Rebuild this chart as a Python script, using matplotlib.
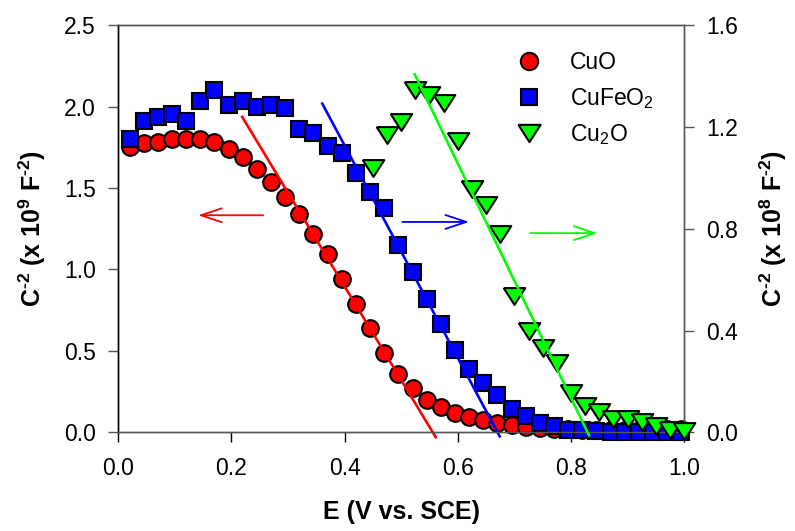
import matplotlib
matplotlib.use("Agg")
import matplotlib.pyplot as plt
from matplotlib.lines import Line2D
from matplotlib.ticker import FormatStrFormatter

plt.rcParams['font.family'] = ['Liberation Sans', 'DejaVu Sans']
plt.rcParams['mathtext.fontset'] = 'custom'
plt.rcParams['mathtext.rm'] = 'Liberation Sans'
plt.rcParams['mathtext.it'] = 'Liberation Sans:italic'
plt.rcParams['mathtext.bf'] = 'Liberation Sans:bold'

# Mott-Schottky data, potential in V vs. SCE
e_cuo = [0.02, 0.045, 0.07, 0.095, 0.12, 0.145, 0.17, 0.195, 0.22, 0.245,
         0.27, 0.295, 0.32, 0.345, 0.37, 0.395, 0.42, 0.445, 0.47, 0.495,
         0.52, 0.545, 0.57, 0.595, 0.62, 0.645, 0.67, 0.695, 0.72, 0.745,
         0.77, 0.795, 0.82, 0.845, 0.87, 0.895, 0.92, 0.945, 0.97, 0.995]
c2_cuo = [1.75, 1.775, 1.785, 1.80, 1.80, 1.80, 1.78, 1.74, 1.69, 1.62,
          1.54, 1.445, 1.34, 1.22, 1.095, 0.94, 0.785, 0.64, 0.49, 0.36,
          0.27, 0.20, 0.155, 0.117, 0.092, 0.074, 0.057, 0.044, 0.033, 0.026,
          0.021, 0.018, 0.016, 0.015, 0.014, 0.014, 0.015, 0.016, 0.018, 0.02]

e_cufeo2 = e_cuo
c2_cufeo2 = [1.80, 1.91, 1.935, 1.955, 1.91, 2.035, 2.10, 2.01, 2.035, 2.00,
             2.01, 1.99, 1.865, 1.84, 1.76, 1.715, 1.59, 1.475, 1.375, 1.15,
             0.985, 0.82, 0.665, 0.505, 0.39, 0.30, 0.227, 0.14, 0.098, 0.057,
             0.037, 0.017, 0.012, 0.006, 0.004, 0.003, 0.003, 0.003, 0.003, 0.003]

# Cu2O is on the right axis (x 10^8)
e_cu2o = [0.45, 0.475, 0.50, 0.525, 0.55, 0.575, 0.60, 0.625, 0.65, 0.675,
          0.70, 0.725, 0.75, 0.775, 0.80, 0.825, 0.85, 0.875, 0.90, 0.925,
          0.95, 0.975, 1.00]
c2_cu2o = [1.04, 1.167, 1.22, 1.346, 1.327, 1.296, 1.144, 0.957, 0.895, 0.778,
           0.536, 0.398, 0.333, 0.271, 0.153, 0.105, 0.080, 0.052, 0.054, 0.039,
           0.024, 0.008, 0.005]

# linear fits (end points)
fit_cuo_x, fit_cuo_y = [0.219, 0.561], [1.937, -0.03]
fit_cufeo2_x, fit_cufeo2_y = [0.3605, 0.674], [2.019, -0.025]
fit_cu2o_x, fit_cu2o_y = [0.524, 0.832], [1.407, -0.012]

# arrows pointing at the axis each curve belongs to: (x_from, x_to, y)
arrow_cuo = (0.256, 0.141, 1.333)
arrow_cufeo2 = (0.502, 0.62, 1.292)
arrow_cu2o = (0.728, 0.847, 0.783)

# flattened down-triangle
tri = [(-1, 0.78), (1, 0.78), (0, -0.78), (-1, 0.78)]

fig = plt.figure(figsize=(7.95, 5.31), dpi=100)
ax = fig.add_axes([0.1488, 0.1859, 0.7117, 0.7665])
ax2 = ax.twinx()

mk = dict(linestyle='none', markeredgecolor='black', markeredgewidth=1.5, clip_on=False)
ax.plot(e_cuo, c2_cuo, marker='o', markersize=12, markerfacecolor='#ff0000', zorder=3, **mk)
ax.plot(e_cufeo2, c2_cufeo2, marker='s', markersize=11, markerfacecolor='#0000ff', zorder=4, **mk)
ax2.plot(e_cu2o, c2_cu2o, marker=tri, markersize=15.5, markerfacecolor='#00ff00', zorder=3, **mk)

ax.plot(fit_cuo_x, fit_cuo_y, color='#ff0000', lw=1.9, zorder=5, clip_on=False)
ax.plot(fit_cufeo2_x, fit_cufeo2_y, color='#0000ff', lw=1.9, zorder=5, clip_on=False)
ax2.plot(fit_cu2o_x, fit_cu2o_y, color='#00ff00', lw=1.9, zorder=5, clip_on=False)

for a, (x0, x1, y), col in [(ax, arrow_cuo, '#ff0000'), (ax, arrow_cufeo2, '#0000ff'),
                            (ax2, arrow_cu2o, '#00ff00')]:
    a.annotate('', xy=(x1, y), xytext=(x0, y),
               arrowprops=dict(arrowstyle='->, head_length=0.75, head_width=0.25',
                               color=col, lw=1.3, mutation_scale=20,
                               shrinkA=0, shrinkB=0))

ax.set_xlim(0, 1.0)
ax.set_ylim(0, 2.5)
ax2.set_ylim(0, 1.6)
ax.set_xticks([0.0, 0.2, 0.4, 0.6, 0.8, 1.0])
ax.set_yticks([0.0, 0.5, 1.0, 1.5, 2.0, 2.5])
ax2.set_yticks([0.0, 0.4, 0.8, 1.2, 1.6])
ax.xaxis.set_major_formatter(FormatStrFormatter('%.1f'))
ax.yaxis.set_major_formatter(FormatStrFormatter('%.1f'))
ax2.yaxis.set_major_formatter(FormatStrFormatter('%.1f'))

for a in (ax, ax2):
    for s in a.spines.values():
        s.set_color('#555555')
        s.set_linewidth(1.0)
    a.spines['left'].set_color('black')

ax.tick_params(axis='x', direction='out', length=7, width=1, pad=11, labelsize=16.5)
ax.tick_params(axis='y', direction='out', length=7, width=1, pad=9, labelsize=16.5, color='#555555')
ax2.tick_params(axis='y', direction='out', length=7, width=1, pad=9, labelsize=16.5, color='#555555')

ax.set_xlabel('E (V vs. SCE)', fontsize=18, fontweight='bold', labelpad=14)
ax.set_ylabel('C$^{\\mathbf{\u20102}}$ (x 10$^{\\mathbf{9}}$ F$^{\\mathbf{\u20102}}$)', fontsize=18,
              fontweight='bold', labelpad=12)
ax2.set_ylabel('C$^{\\mathbf{\u20102}}$ (x 10$^{\\mathbf{8}}$ F$^{\\mathbf{\u20102}}$)', fontsize=18,
               fontweight='bold', labelpad=14, rotation=90)

handles = [
    Line2D([], [], marker='o', markersize=12.5, markerfacecolor='#ff0000', **mk),
    Line2D([], [], marker='s', markersize=12, markerfacecolor='#0000ff', **mk),
    Line2D([], [], marker=tri, markersize=16, markerfacecolor='#00ff00', **mk),
]
ax.legend(handles, ['CuO', r'CuFeO$_2$', r'Cu$_2$O'], loc='upper left',
          bbox_to_anchor=(0.705, 0.936), frameon=False, fontsize=16.5,
          handlelength=1.0, handletextpad=1.3, labelspacing=0.5, borderpad=0,
          borderaxespad=0)

fig.savefig('out.png', dpi=100)
